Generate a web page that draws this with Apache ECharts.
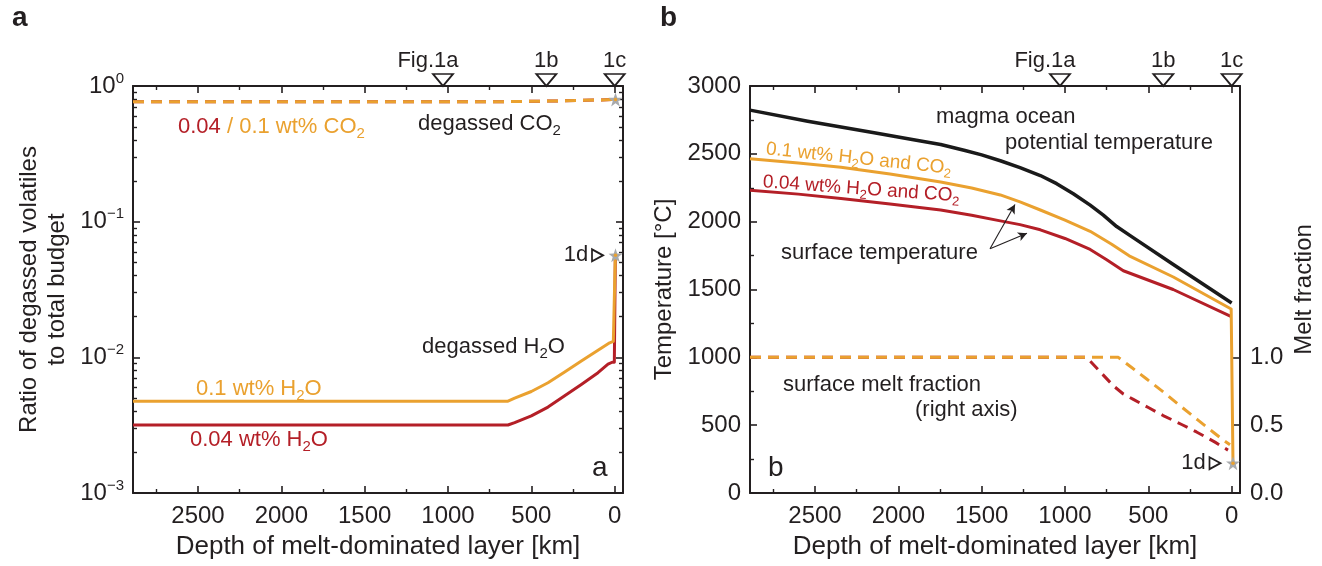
<!DOCTYPE html>
<html>
<head>
<meta charset="utf-8">
<script src="https://cdn.jsdelivr.net/npm/echarts@6/dist/echarts.min.js"></script>
<style>
  html, body { margin: 0; padding: 0; background: #ffffff; }
  #chart { width: 1322px; height: 566px; }
</style>
</head>
<body>
<div id="chart"></div>
<script>
// ---- axis ticks ----
const depthTicks = [0, 500, 1000, 1500, 2000, 2500];
const depthMinorTicks = [250, 750, 1250, 1750, 2250, 2750];
const ratioTicks = [0.001, 0.01, 0.1, 1];
const ratioMinorTicks = [0.002, 0.003, 0.004, 0.005, 0.006, 0.007, 0.008, 0.009,
                         0.02, 0.03, 0.04, 0.05, 0.06, 0.07, 0.08, 0.09,
                         0.2, 0.3, 0.4, 0.5, 0.6, 0.7, 0.8, 0.9];
const tempTicks = [0, 500, 1000, 1500, 2000, 2500, 3000];
const tempMinorTicks = [250, 750, 1250, 1750, 2250, 2750];
const meltTicks = [0, 0.5, 1.0];

// ---- markers on the top edge (depth, km) ----
const markerDepths = [1030, 410, 0];
const markerNames = ['Fig.1a', '1b', '1c'];

// ---- panel a: degassed fraction vs. depth [km, ratio] ----
const co2Low  = [[2890, 0.765], [700, 0.765], [400, 0.774], [100, 0.788], [-5, 0.795]];
const co2High = [[2890, 0.765], [700, 0.765], [400, 0.774], [100, 0.788], [-5, 0.795]];
const h2oHigh = [[2890, 0.00475], [640, 0.00475], [600, 0.0050], [500, 0.0056], [400, 0.0065],
                 [300, 0.0078], [200, 0.0094], [100, 0.0113], [30, 0.0128], [8, 0.0131], [-4, 0.0565]];
const h2oLow  = [[2890, 0.00317], [640, 0.00317], [600, 0.0033], [500, 0.0037], [400, 0.0043],
                 [300, 0.0052], [200, 0.0063], [100, 0.0077], [40, 0.0089], [15, 0.0092], [2, 0.0092], [-4, 0.0560]];
const starsA = [[-5, 0.795], [-5, 0.0565]];
const pointerA = [[-5, 0.0565]];

// ---- panel b: temperatures [km, °C] and melt fraction [km, -] ----
const potentialTemp = [[2890, 2822], [2544, 2740], [2145, 2656], [1900, 2602], [1746, 2569], [1600, 2525],
                       [1500, 2492], [1388, 2449], [1270, 2398], [1148, 2340], [1050, 2280], [950, 2206],
                       [849, 2122], [770, 2048], [690, 1964], [600, 1890], [350, 1684], [0, 1400]];
const surfTempHigh = [[2890, 2463], [2600, 2432], [2344, 2401], [2050, 2352], [1746, 2292], [1560, 2248],
                      [1388, 2197], [1270, 2146], [1148, 2086], [1000, 2011], [849, 1929], [720, 1834],
                      [615, 1748], [350, 1592], [3, 1356], [-8, 220]];
const surfTempLow  = [[2890, 2232], [2600, 2203], [2344, 2171], [2050, 2131], [1746, 2086], [1560, 2047],
                      [1388, 2006], [1270, 1978], [1148, 1940], [1000, 1876], [849, 1795], [750, 1720],
                      [650, 1638], [351, 1500], [2, 1300]];
const meltHigh = [[2890, 1.0], [680, 1.0], [600, 0.925], [510, 0.84], [400, 0.735], [311, 0.645],
                  [200, 0.535], [112, 0.45], [50, 0.39], [10, 0.355]];
const meltLow  = [[2890, 1.0], [870, 1.0], [790, 0.895], [710, 0.79], [650, 0.73], [590, 0.69],
                  [500, 0.63], [411, 0.571], [300, 0.505], [211, 0.45], [100, 0.375], [22, 0.316]];
const starsB = [[-8, 220]];
const pointerB = [[-8, 220]];
// arrows from the "surface temperature" label to the two curves
const arrowFrom = [1450, 1800];
const arrowTipHigh = [1300, 2126];
const arrowTipLow = [1228, 1915];

// ---- style ----
const FONT = 'Liberation Sans';
const INK = '#231f20';
const ORANGE = '#EAA12F';
const RED = '#B41F27';
const STARGRAY = '#a8aaad';
const STAR = 'path://M50,2 L61.8,36 L97.6,36.4 L69,58 L79.4,92.4 L50,71.8 L20.6,92.4 L31,58 L2.4,36.4 L38.2,36 Z';

const chart = echarts.init(document.getElementById('chart'), null, { renderer: 'canvas' });

const frameLine = { show: true, onZero: false, lineStyle: { color: INK, width: 2 } };
const noLine = { show: false, onZero: false };
const majorTick = (vals) => ({ show: true, inside: true, length: 7, customValues: vals, lineStyle: { color: INK, width: 1.6 } });
const minorTick = (vals) => ({ show: true, inside: true, length: 4, customValues: vals, lineStyle: { color: INK, width: 1.4 } });
const nameStyle = { fontSize: 24, color: INK, fontFamily: FONT, lineHeight: 28 };
const tickLabel = { fontSize: 24, color: INK, fontFamily: FONT, formatter: (v) => String(v) };

function depthAxes(grid) {
  const base = { gridIndex: grid, type: 'value', min: -50, max: 2890, inverse: true, splitLine: { show: false } };
  return [
    Object.assign({}, base, {
      position: 'bottom', axisLine: frameLine, axisTick: majorTick(depthTicks),
      axisLabel: Object.assign({ customValues: depthTicks, margin: 11 }, tickLabel),
      name: 'Depth of melt-dominated layer [km]', nameLocation: 'middle', nameGap: 40,
      nameTextStyle: Object.assign({}, nameStyle, { fontSize: 26 })
    }),
    Object.assign({}, base, { position: 'bottom', axisLine: noLine, axisTick: minorTick(depthMinorTicks), axisLabel: { show: false } }),
    Object.assign({}, base, { position: 'top', axisLine: frameLine, axisTick: majorTick(depthTicks), axisLabel: { show: false } }),
    Object.assign({}, base, { position: 'top', axisLine: noLine, axisTick: minorTick(depthMinorTicks), axisLabel: { show: false } })
  ];
}

const powRich = {
  b: { fontSize: 24, fontFamily: FONT, color: INK, lineHeight: 30, verticalAlign: 'middle' },
  s: { fontSize: 15, fontFamily: FONT, color: INK, lineHeight: 15, verticalAlign: 'top' }
};
function powLabel(v) {
  const e = Math.round(Math.log10(v));
  return '{b|10}{s|' + (e === 0 ? '0' : '\u2212' + (-e)) + '}';
}

function ratioAxes(grid) {
  const base = { gridIndex: grid, type: 'log', logBase: 10, min: 0.001, max: 1, splitLine: { show: false } };
  return [
    Object.assign({}, base, {
      position: 'left', axisLine: frameLine, axisTick: majorTick(ratioTicks),
      axisLabel: { customValues: ratioTicks, formatter: powLabel, rich: powRich, margin: 9 },
      name: 'Ratio of degassed volatiles\nto total budget', nameLocation: 'middle', nameRotate: 90,
      nameGap: 62, nameTextStyle: nameStyle
    }),
    Object.assign({}, base, { position: 'left', axisLine: noLine, axisTick: minorTick(ratioMinorTicks), axisLabel: { show: false } }),
    Object.assign({}, base, { position: 'right', axisLine: frameLine, axisTick: majorTick(ratioTicks), axisLabel: { show: false } }),
    Object.assign({}, base, { position: 'right', axisLine: noLine, axisTick: minorTick(ratioMinorTicks), axisLabel: { show: false } })
  ];
}

function tempAxes(grid) {
  const base = { gridIndex: grid, type: 'value', min: 0, max: 3000, interval: 500, splitLine: { show: false } };
  return [
    Object.assign({}, base, {
      position: 'left', axisLine: frameLine, axisTick: majorTick(tempTicks),
      axisLabel: Object.assign({ customValues: tempTicks, margin: 9 }, tickLabel),
      name: 'Temperature [\u00B0C]', nameLocation: 'middle', nameRotate: 90, nameGap: 72, nameTextStyle: nameStyle
    }),
    Object.assign({}, base, { position: 'left', axisLine: noLine, axisTick: minorTick(tempMinorTicks), axisLabel: { show: false } })
  ];
}

function meltAxis(grid) {
  return {
    gridIndex: grid, type: 'value', min: 0, max: 3, position: 'right', splitLine: { show: false },
    axisLine: frameLine, axisTick: majorTick(meltTicks),
    axisLabel: Object.assign({}, tickLabel, { customValues: meltTicks, margin: 10, formatter: (v) => v.toFixed(1) }),
    name: 'Melt fraction', nameLocation: 'middle', nameRotate: 90, nameGap: 50, nameTextStyle: nameStyle
  };
}

const xAxes = [].concat(depthAxes(0), depthAxes(1));
const yAxes = [].concat(ratioAxes(0), tempAxes(1), [meltAxis(1)]);
// y index: 0-3 ratio (grid 0), 4 temperature, 5 temperature minor, 6 melt fraction

function line(name, data, x, y, color, width, dashed, z) {
  return {
    type: 'line', name, data, xAxisIndex: x, yAxisIndex: y, showSymbol: false, symbol: 'none',
    smooth: false, clip: false, z: z || 2,
    lineStyle: { color, width, type: dashed ? [11, 7] : 'solid', cap: 'butt', join: 'round' }
  };
}

function markerSeries(x, y, topValue) {
  return {
    type: 'scatter', xAxisIndex: x, yAxisIndex: y, clip: false, z: 10,
    data: markerDepths.map((d, i) => ({ value: [d, topValue], name: markerNames[i],
      label: { offset: i === 0 ? [-15, 0] : [0, 0] } })),
    symbol: 'triangle', symbolRotate: 180, symbolSize: [20, 12], symbolOffset: [0, -6],
    itemStyle: { color: '#ffffff', borderColor: INK, borderWidth: 1.8, opacity: 1 },
    label: { show: true, position: 'top', distance: 1, formatter: (p) => p.name,
      fontSize: 22, color: INK, opacity: 1, fontFamily: FONT }
  };
}

function starSeries(x, y, data) {
  return [
    { type: 'scatter', xAxisIndex: x, yAxisIndex: y, data, clip: false, z: 8,
      symbol: STAR, symbolSize: 14, itemStyle: { color: STARGRAY, opacity: 1 } },
    { type: 'scatter', xAxisIndex: x, yAxisIndex: y, data, clip: false, z: 9,
      symbol: 'circle', symbolSize: 3.5, itemStyle: { color: ORANGE, opacity: 1 } }
  ];
}

function pointerSeries(x, y, data) {
  return {
    type: 'scatter', xAxisIndex: x, yAxisIndex: y, data, clip: false, z: 9,
    symbol: 'triangle', symbolRotate: -90, symbolSize: [12, 11], symbolOffset: [-18, 0],
    itemStyle: { color: '#ffffff', borderColor: INK, borderWidth: 1.8, opacity: 1 },
    label: { show: true, position: 'left', distance: 3, formatter: '1d', fontSize: 22, color: INK, opacity: 1, fontFamily: FONT }
  };
}

const subRich = (size, color) => ({
  b: { fontSize: size, fontFamily: FONT, fill: color, lineHeight: size + 6, verticalAlign: 'middle' },
  s: { fontSize: Math.round(size * 0.68), fontFamily: FONT, fill: color, lineHeight: Math.round(size * 0.68), verticalAlign: 'bottom' },
  r: { fontSize: size, fontFamily: FONT, fill: RED, lineHeight: size + 6, verticalAlign: 'middle' },
  o: { fontSize: size, fontFamily: FONT, fill: ORANGE, lineHeight: size + 6, verticalAlign: 'middle' },
  os: { fontSize: Math.round(size * 0.68), fontFamily: FONT, fill: ORANGE, lineHeight: Math.round(size * 0.68), verticalAlign: 'bottom' }
});

function note(x, y, text, opt) {
  opt = opt || {};
  const size = opt.size || 22;
  const color = opt.color || INK;
  return {
    type: 'text', x, y, rotation: opt.rot || 0, silent: true, z: 20,
    style: {
      text, fill: color, fontSize: size, fontFamily: FONT, fontWeight: opt.weight || 'normal',
      verticalAlign: 'middle', align: opt.align || 'left', rich: subRich(size, color)
    }
  };
}

const option = {
  animation: false,
  backgroundColor: '#ffffff',
  grid: [
    { left: 133, top: 86, width: 490, height: 412, containLabel: false },
    { left: 750, top: 86, width: 490, height: 412, containLabel: false }
  ],
  xAxis: xAxes,
  yAxis: yAxes,
  series: [
    // panel a
    line('CO2 0.04 wt%', co2Low, 0, 0, RED, 3, true),
    line('CO2 0.1 wt%', co2High, 0, 0, ORANGE, 3, true, 3),
    line('H2O 0.04 wt%', h2oLow, 0, 0, RED, 3, false),
    line('H2O 0.1 wt%', h2oHigh, 0, 0, ORANGE, 3, false, 3),
    markerSeries(0, 0, 1),
    ...starSeries(0, 0, starsA),
    pointerSeries(0, 0, pointerA),
    // panel b
    Object.assign(line('magma ocean potential temperature', potentialTemp, 4, 4, '#1a1a1a', 3.5, false), {
      markLine: {
        silent: true, symbol: ['none', 'arrow'], symbolSize: [7, 9], label: { show: false },
        lineStyle: { color: INK, width: 1.1, type: 'solid' },
        data: [[{ coord: arrowFrom }, { coord: arrowTipHigh }], [{ coord: arrowFrom }, { coord: arrowTipLow }]]
      }
    }),
    line('melt fraction 0.04 wt%', meltLow, 4, 6, RED, 3, true),
    line('melt fraction 0.1 wt%', meltHigh, 4, 6, ORANGE, 3, true, 3),
    line('surface temperature 0.04 wt%', surfTempLow, 4, 4, RED, 3, false),
    line('surface temperature 0.1 wt%', surfTempHigh, 4, 4, ORANGE, 3, false, 3),
    markerSeries(4, 4, 3000),
    ...starSeries(4, 4, starsB),
    pointerSeries(4, 4, pointerB)
  ],
  graphic: [
    note(12, 18, 'a', { size: 28, weight: 'bold' }),
    note(660, 18, 'b', { size: 28, weight: 'bold' }),
    // panel a
    note(178, 127, '{r|0.04 }{o|/ 0.1 wt% CO}{os|2}', { color: ORANGE }),
    note(418, 124, '{b|degassed CO}{s|2}'),
    note(422, 347, '{b|degassed H}{s|2}{b|O}'),
    note(196, 389, '{b|0.1 wt% H}{s|2}{b|O}', { color: ORANGE }),
    note(190, 440, '{b|0.04 wt% H}{s|2}{b|O}', { color: RED }),
    note(592, 468, 'a', { size: 28 }),
    // panel b
    note(936, 117, 'magma ocean'),
    note(1005, 143, 'potential temperature'),
    note(766, 149, '{b|0.1 wt% H}{s|2}{b|O and CO}{s|2}', { color: ORANGE, size: 19, rot: -0.105 }),
    note(763, 182, '{b|0.04 wt% H}{s|2}{b|O and CO}{s|2}', { color: RED, size: 19, rot: -0.072 }),
    note(781, 253, 'surface temperature'),
    note(783, 385, 'surface melt fraction'),
    note(915, 410, '(right axis)'),
    note(768, 468, 'b', { size: 28 })
  ]
};

chart.setOption(option);
</script>
</body>
</html>
